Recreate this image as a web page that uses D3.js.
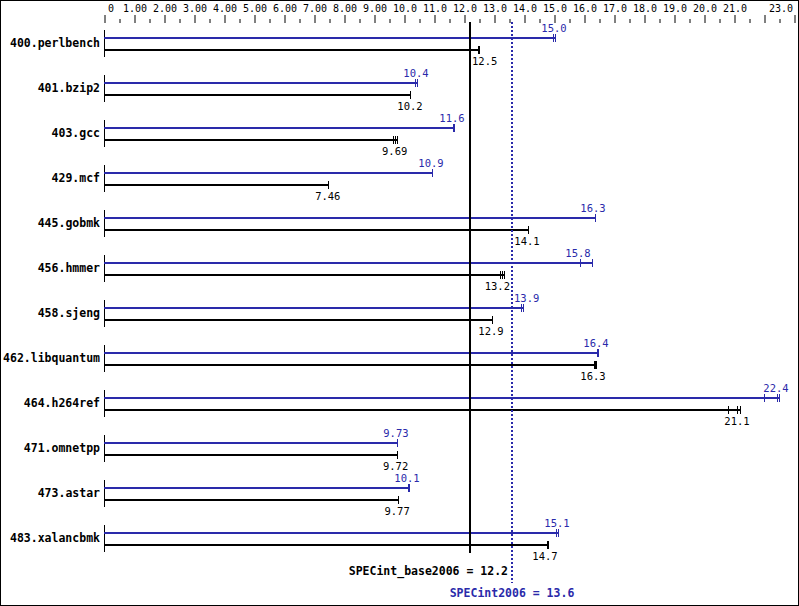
<!DOCTYPE html>
<html>
<head>
<meta charset="utf-8">
<script src="https://cdn.jsdelivr.net/npm/d3@7"></script>
<style>
  body { margin: 0; background: #fff; }
  svg { display: block; }
  text { font-family: "DejaVu Sans Mono", "Liberation Mono", monospace; }
</style>
</head>
<body>
<div id="chart"></div>
<script>
const benchmarks = ["400.perlbench", "401.bzip2", "403.gcc", "429.mcf", "445.gobmk", "456.hmmer",
  "458.sjeng", "462.libquantum", "464.h264ref", "471.omnetpp", "473.astar", "483.xalancbmk"];
const baseRatio = [12.5, 10.2, 9.69, 7.46, 14.1, 13.2, 12.9, 16.3, 21.1, 9.72, 9.77, 14.7];
const peakRatio = [15.0, 10.4, 11.6, 10.9, 16.3, 15.8, 13.9, 16.4, 22.4, 9.73, 10.1, 15.1];
// individual run results (tick marks at the bar ends)
const baseRuns = [[12.45, 12.5, 12.5], [10.2, 10.2], [9.64, 9.69, 9.76], [7.46], [14.12], [13.2, 13.26, 13.32],
  [12.93], [16.33, 16.37, 16.4], [20.8, 21.1, 21.2], [9.76], [9.8], [14.76, 14.8]];
const peakRuns = [[14.96, 15.04], [10.38, 10.42], [11.63, 11.67], [10.93], [16.37], [15.87, 16.27],
  [13.9, 13.95], [16.42, 16.46], [22.0, 22.45, 22.5], [9.77], [10.13, 10.15], [15.08, 15.12]];
const baseScore = 12.2;
const peakScore = 13.6;
const tickValues = [0, 1, 2, 3, 4, 5, 6, 7, 8, 9, 10, 11, 12, 13, 14, 15, 16, 17, 18, 19, 20, 21, 22, 23];
const tickLabels = ["0", "1.00", "2.00", "3.00", "4.00", "5.00", "6.00", "7.00", "8.00", "9.00", "10.0", "11.0",
  "12.0", "13.0", "14.0", "15.0", "16.0", "17.0", "18.0", "19.0", "20.0", "21.0", "", "23.0"];
const minorTicks = [0.5, 1.5, 2.5, 3.5, 4.5, 5.5, 6.5, 7.5, 8.5, 9.5, 10.5, 11.5, 12.5, 13.5, 14.5, 15.5,
  16.5, 17.5, 18.5, 19.5, 20.5, 21.5, 22.5];

const W = 799, H = 606;
const blue = "#2a2aaa";

const svg = d3.select("#chart").append("svg")
  .attr("width", W).attr("height", H);

svg.append("rect")
  .attr("x", 0.5).attr("y", 0.5)
  .attr("width", W - 1).attr("height", H - 1)
  .attr("fill", "#fff").attr("stroke", "#000");

const x = d3.scaleLinear().domain([0, 23]).range([104, 794]);
const y = d3.scaleBand().domain(benchmarks).range([30, 30 + 45 * benchmarks.length]);

// top axis: major ticks with labels, minor ticks without
const major = svg.append("g")
  .attr("transform", "translate(0.5,23)")
  .call(d3.axisTop(x).tickValues(tickValues).tickSize(8).tickPadding(3)
    .tickFormat((d, i) => tickLabels[i]));
const minor = svg.append("g")
  .attr("transform", "translate(0.5,23)")
  .call(d3.axisTop(x).tickValues(minorTicks).tickSize(4).tickFormat(""));
[major, minor].forEach(g => {
  g.select(".domain").remove();
  g.selectAll("line").attr("stroke", "#000");
});
major.selectAll("text")
  .attr("fill", "#000")
  .style("font-size", "10px")
  .each(function (d) {
    const t = d3.select(this);
    const w = this.getComputedTextLength();
    const tx = x(d);
    // keep labels inside the plot frame
    if (tx - w / 2 < 107) t.attr("x", 107 + w / 2 - tx);
    if (tx + w / 2 > 792) t.attr("x", 792 - w / 2 - tx);
  });

const rows = svg.append("g");
const refLines = [x(baseScore), x(peakScore)];

// center the value on its bar, but push it off the score lines
function placeLabel(sel, cx) {
  const w = sel.node().getComputedTextLength();
  let left = cx - w / 2;
  refLines.forEach(xr => {
    if (left < xr + 2 && left + w > xr - 2) {
      const toRight = xr + 2 - left;
      const toLeft = left + w - (xr - 2);
      left = toRight <= toLeft ? xr + 2 : xr - 2 - w;
    }
  });
  sel.attr("x", left);
}

const fmt = v => v >= 10 ? v.toFixed(1) : v.toFixed(2);

benchmarks.forEach((b, i) => {
  const top = y(b);
  const yp = top + 8, yb = top + 20;
  const g = rows.append("g");

  g.append("line")
    .attr("x1", 104.5).attr("x2", 104.5)
    .attr("y1", top).attr("y2", top + 27)
    .attr("stroke", "#000");

  g.append("text")
    .attr("x", 100).attr("y", top + 17)
    .attr("text-anchor", "end")
    .style("font-size", "11.5px").style("font-weight", "bold")
    .text(b);

  [[peakRuns[i], peakRatio[i], yp, blue, -6], [baseRuns[i], baseRatio[i], yb, "#000", 15]]
    .forEach(([runs, ratio, yy, col, dy]) => {
      const end = d3.max(runs);
      g.append("line")
        .attr("x1", x(0)).attr("x2", Math.round(x(end)) + 1)
        .attr("y1", yy).attr("y2", yy)
        .attr("stroke", col).attr("stroke-width", 2);
      g.selectAll(null).data(runs).enter().append("line")
        .attr("x1", d => Math.round(x(d)) + 0.5).attr("x2", d => Math.round(x(d)) + 0.5)
        .attr("y1", yy - 4).attr("y2", yy + 4)
        .attr("stroke", col);
      const lbl = g.append("text")
        .attr("y", yy + dy)
        .attr("fill", col)
        .style("font-size", "10.5px")
        .text(fmt(ratio));
      placeLabel(lbl, x(ratio));
    });
});

// overall score lines
svg.append("line")
  .attr("x1", x(baseScore)).attr("x2", x(baseScore))
  .attr("y1", 22).attr("y2", 553)
  .attr("stroke", "#000").attr("stroke-width", 2);
svg.append("line")
  .attr("x1", x(peakScore)).attr("x2", x(peakScore))
  .attr("y1", 22).attr("y2", 583)
  .attr("stroke", blue).attr("stroke-width", 2)
  .attr("stroke-dasharray", "2,2");

svg.append("text")
  .attr("x", x(peakScore) - 4).attr("y", 575)
  .attr("text-anchor", "end")
  .style("font-size", "11.5px").style("font-weight", "bold")
  .text("SPECint_base2006 = " + baseScore.toFixed(1));
svg.append("text")
  .attr("x", x(peakScore)).attr("y", 597)
  .attr("text-anchor", "middle")
  .attr("fill", blue)
  .style("font-size", "11.5px").style("font-weight", "bold")
  .text("SPECint2006 = " + peakScore.toFixed(1));
</script>
</body>
</html>
